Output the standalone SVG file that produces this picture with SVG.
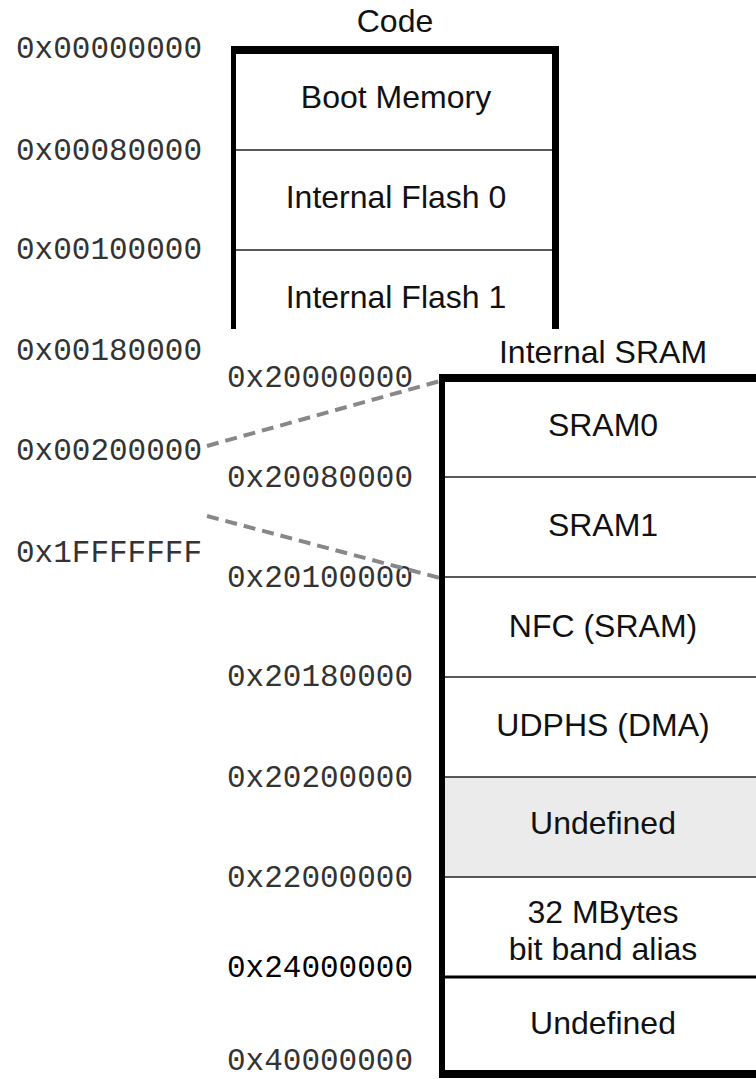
<svg xmlns="http://www.w3.org/2000/svg" width="756" height="1079" viewBox="0 0 756 1079">
<style>
.lbl{font-family:"Liberation Sans",Arial,sans-serif;font-size:32px;fill:#111;text-anchor:middle}
.addr{font-family:"Liberation Mono","Courier New",monospace;font-size:31px;fill:#333}
.div{stroke:#222;stroke-width:1.6}
.bd{fill:#000}
.dash{stroke:#888;stroke-width:4;stroke-dasharray:12 7;fill:none}
</style>
<rect width="756" height="1079" fill="#fff"/>
<g id="code-region">
  <text class="lbl" x="395" y="32">Code</text>
  <rect class="bd" x="231" y="46" width="328" height="8"/>
  <rect class="bd" x="231" y="46" width="5" height="283"/>
  <rect class="bd" x="552" y="46" width="7" height="283"/>
  <line class="div" x1="236" y1="150" x2="552" y2="150"/>
  <line class="div" x1="236" y1="250" x2="552" y2="250"/>
  <g id="boot-memory"><text class="lbl" x="396" y="108">Boot Memory</text></g>
  <g id="internal-flash-0"><text class="lbl" x="396" y="208">Internal Flash 0</text></g>
  <g id="internal-flash-1"><text class="lbl" x="396" y="308">Internal Flash 1</text></g>
</g>
<g id="code-addresses">
  <text class="addr" x="16" y="58">0x00000000</text>
  <text class="addr" x="16" y="160">0x00080000</text>
  <text class="addr" x="16" y="259">0x00100000</text>
  <text class="addr" x="16" y="360">0x00180000</text>
  <text class="addr" x="16" y="460">0x00200000</text>
  <text class="addr" x="16" y="562">0x1FFFFFFF</text>
</g>
<g id="sram-region">
  <text class="lbl" x="603" y="363">Internal SRAM</text>
  <rect x="445" y="382" width="311" height="395" fill="#fff"/>
  <rect x="445" y="777" width="311" height="100" fill="#ebebeb"/>
  <rect class="bd" x="439" y="374" width="317" height="8"/>
  <rect class="bd" x="439" y="374" width="6" height="704"/>
  <rect class="bd" x="439" y="1070" width="317" height="8"/>
  <line class="div" x1="445" y1="477" x2="756" y2="477"/>
  <line class="div" x1="445" y1="577" x2="756" y2="577"/>
  <line class="div" x1="445" y1="677" x2="756" y2="677"/>
  <line class="div" x1="445" y1="777" x2="756" y2="777"/>
  <line class="div" x1="445" y1="877" x2="756" y2="877"/>
  <line x1="445" y1="977" x2="756" y2="977" stroke="#000" stroke-width="3"/>
  <g id="sram0"><text class="lbl" x="603" y="436">SRAM0</text></g>
  <g id="sram1"><text class="lbl" x="603" y="536">SRAM1</text></g>
  <g id="nfc-sram"><text class="lbl" x="603" y="637">NFC (SRAM)</text></g>
  <g id="udphs-dma"><text class="lbl" x="603" y="736">UDPHS (DMA)</text></g>
  <g id="undefined-1"><text class="lbl" x="603" y="834">Undefined</text></g>
  <g id="bit-band-alias"><text class="lbl" x="603" y="923">32 MBytes</text><text class="lbl" x="603" y="960">bit band alias</text></g>
  <g id="undefined-2"><text class="lbl" x="603" y="1034">Undefined</text></g>
</g>
<g id="sram-addresses">
  <text class="addr" x="227" y="387">0x20000000</text>
  <text class="addr" x="227" y="487">0x20080000</text>
  <text class="addr" x="227" y="587">0x20100000</text>
  <text class="addr" x="227" y="686">0x20180000</text>
  <text class="addr" x="227" y="787">0x20200000</text>
  <text class="addr" x="227" y="887">0x22000000</text>
  <text class="addr" x="227" y="977" style="fill:#000">0x24000000</text>
  <text class="addr" x="227" y="1070">0x40000000</text>
</g>
<g id="connectors">
  <line class="dash" x1="207" y1="446" x2="440" y2="381"/>
  <line class="dash" x1="207" y1="516" x2="440" y2="578"/>
</g>
</svg>
